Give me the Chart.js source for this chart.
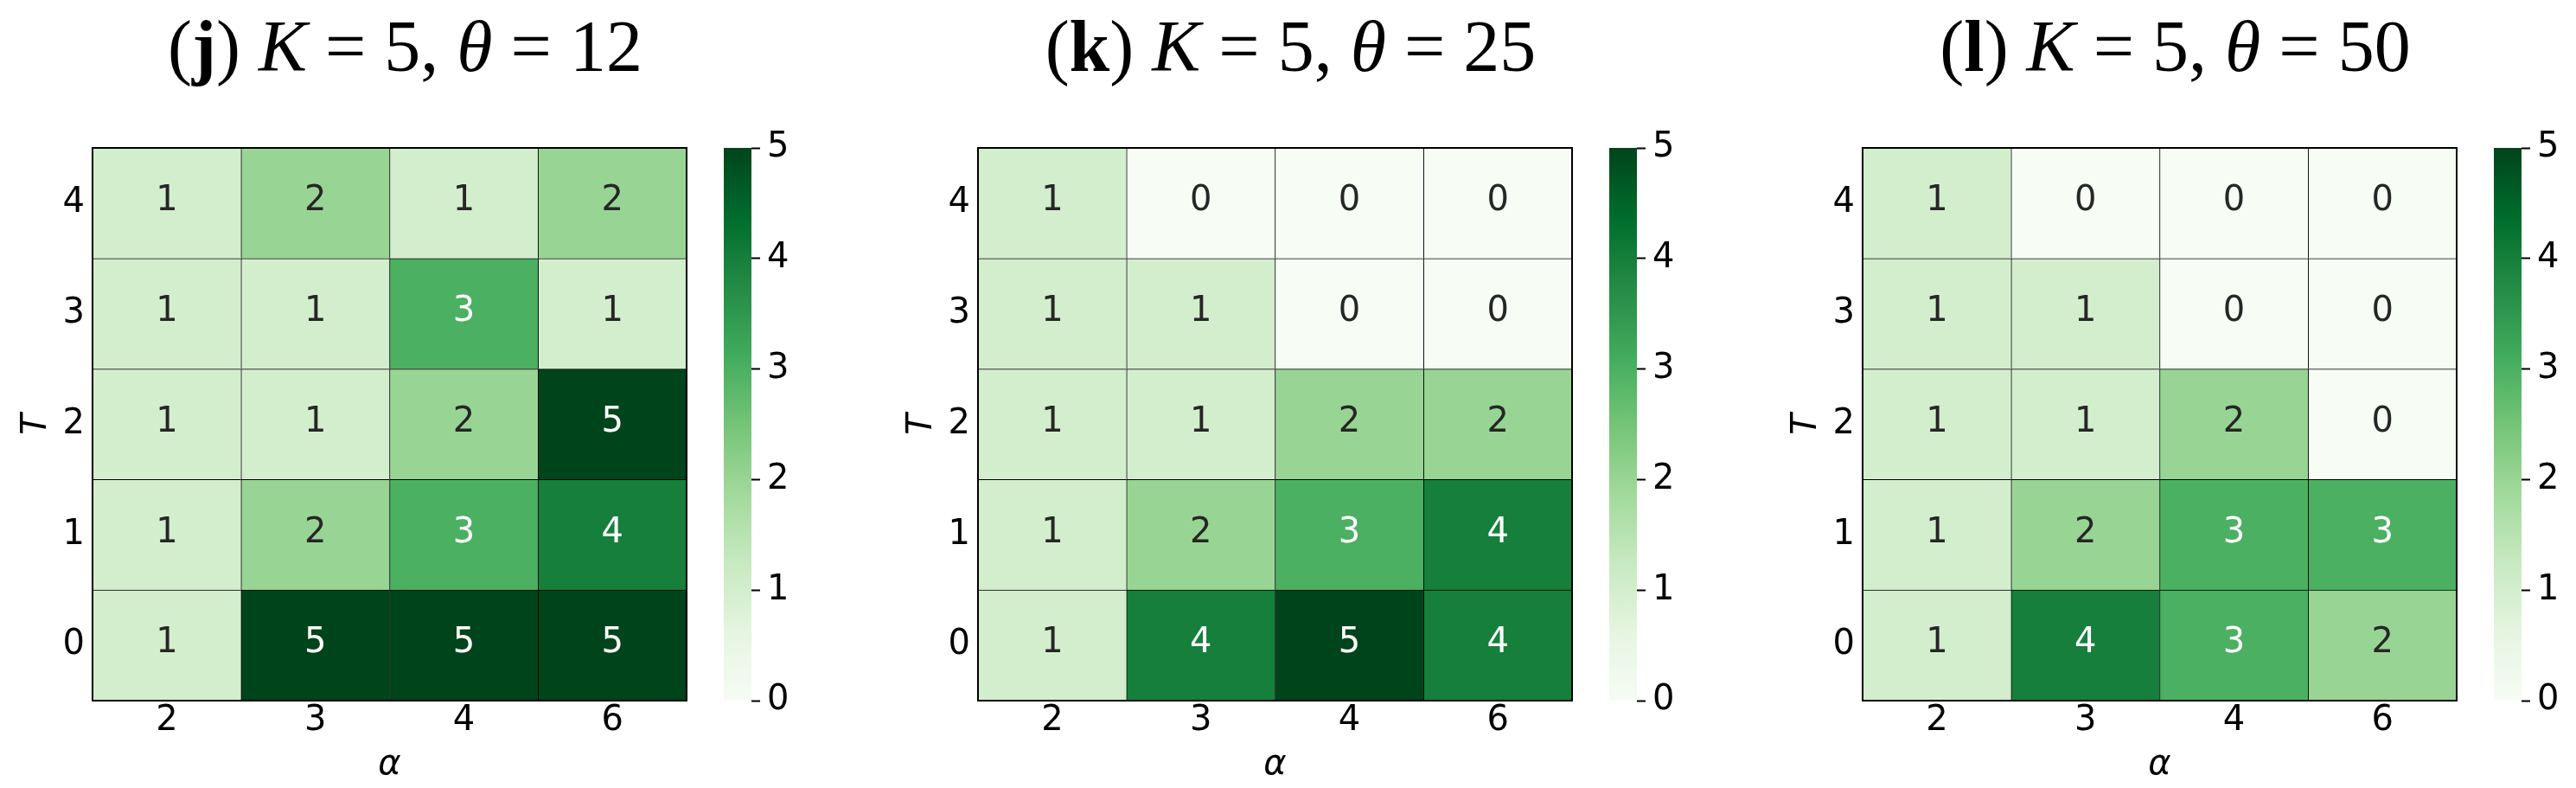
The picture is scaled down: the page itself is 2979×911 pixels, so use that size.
<!DOCTYPE html>
<html>
<head>
<meta charset="utf-8">
<script src="https://cdn.jsdelivr.net/npm/chart.js@4.4.0/dist/chart.umd.min.js"></script>
<style>
  html, body { margin: 0; padding: 0; background: #fff; }
  #wrap { position: relative; width: 2979px; height: 911px; overflow: hidden; }
  #wrap canvas { position: absolute; top: 0; }
</style>
</head>
<body>
<div id="wrap"></div>
<script>
// --- data ---------------------------------------------------------------
const alphaLabels = ['2', '3', '4', '6'];
const tValues = [0, 1, 2, 3, 4];
const panelLetters = ['j', 'k', 'l'];
const kValue = 5;
const thetas = [12, 25, 50];
// one row per T, from T = 0 up to T = 4
const counts12 = [[1, 5, 5, 5], [1, 2, 3, 4], [1, 1, 2, 5], [1, 1, 3, 1], [1, 2, 1, 2]];
const counts25 = [[1, 4, 5, 4], [1, 2, 3, 4], [1, 1, 2, 2], [1, 1, 0, 0], [1, 0, 0, 0]];
const counts50 = [[1, 4, 3, 2], [1, 2, 3, 3], [1, 1, 2, 0], [1, 1, 0, 0], [1, 0, 0, 0]];
const panelCounts = [counts12, counts25, counts50];
const cbTicks = [0, 1, 2, 3, 4, 5];
const vMin = 0, vMax = 5;

// matplotlib "Greens"
const greensStops = ['#f7fcf5', '#e5f5e0', '#c7e9c0', '#a1d99b', '#74c476', '#41ab5d', '#238b45', '#006d2c', '#00441b'];

function hexToRgb(h) {
    return [parseInt(h.slice(1, 3), 16), parseInt(h.slice(3, 5), 16), parseInt(h.slice(5, 7), 16)];
}

function greens(t) {
    t = Math.max(0, Math.min(1, t));
    const pos = t * (greensStops.length - 1);
    const i = Math.min(Math.floor(pos), greensStops.length - 2);
    const f = pos - i;
    const a = hexToRgb(greensStops[i]), b = hexToRgb(greensStops[i + 1]);
    const c = a.map((v, k) => Math.round(v + (b[k] - v) * f));
    return `rgb(${c[0]},${c[1]},${c[2]})`;
}

Chart.defaults.font.family = '"DejaVu Sans"';
Chart.defaults.color = '#000';

const FONT = 40;
const heatLefts = [107, 1131, 2154];
const heatW = 687, heatTop = 171, heatBottom = 810;
const yAxisW = 107, padRight = 12;
const cbGap = 43, cbW = 32, cbAxisW = 90;

const wrap = document.getElementById('wrap');

function addCanvas(left, width) {
    const c = document.createElement('canvas');
    c.width = width;
    c.height = 911;
    c.style.left = left + 'px';
    c.style.width = width + 'px';
    c.style.height = '911px';
    wrap.appendChild(c);
    return c;
}

// panel title with mixed bold / italic parts
const titlePlugin = {
    id: 'panelTitle',
    afterDraw(chart) {
        const opts = chart.options.plugins.panelTitle;
        const ctx = chart.ctx;
        const size = 84;
        const segs = [
            ['(', ''], [opts.letter, 'bold '], [') ', ''], ['K', 'italic '],
            [' = ' + kValue + ', ', ''], ['θ', 'italic '], [' = ' + opts.theta, '']
        ];
        ctx.save();
        let total = 0;
        const widths = segs.map(s => {
            ctx.font = s[1] + size + 'px "Liberation Serif"';
            const w = ctx.measureText(s[0]).width;
            total += w;
            return w;
        });
        const area = chart.chartArea;
        let x = (area.left + area.right) / 2 + 18 - total / 2;
        ctx.fillStyle = '#000';
        ctx.textBaseline = 'alphabetic';
        ctx.textAlign = 'left';
        segs.forEach((s, i) => {
            ctx.font = s[1] + size + 'px "Liberation Serif"';
            ctx.fillText(s[0], x, 82);
            x += widths[i];
        });
        ctx.restore();
    }
};

// cell numbers and the outer frame
const annotatePlugin = {
    id: 'annotate',
    afterDatasetsDraw(chart) {
        const ctx = chart.ctx;
        ctx.save();
        ctx.font = FONT + 'px "DejaVu Sans"';
        ctx.textAlign = 'center';
        ctx.textBaseline = 'middle';
        chart.data.datasets.forEach((ds, di) => {
            chart.getDatasetMeta(di).data.forEach((bar, j) => {
                const v = ds.counts[j];
                ctx.fillStyle = v >= 3 ? '#ffffff' : '#262626';
                ctx.fillText(String(v), bar.x, (bar.y + bar.base) / 2 - 2);
            });
        });
        const a = chart.chartArea;
        ctx.strokeStyle = '#000';
        ctx.lineWidth = 2;
        ctx.strokeRect(a.left, a.top, a.right - a.left, a.bottom - a.top);
        ctx.restore();
    }
};

function makeHeatmap(p) {
    const L = heatLefts[p];
    const canvas = addCanvas(L - yAxisW, yAxisW + heatW + padRight);
    const counts = panelCounts[p];
    const datasets = tValues.map((t, r) => ({
        label: 'T=' + t,
        data: alphaLabels.map(() => [t - 0.5, t + 0.5]),
        counts: counts[r],
        backgroundColor: counts[r].map(v => greens((v - vMin) / (vMax - vMin))),
        borderColor: '#000',
        borderWidth: { top: 1, left: 1, right: 0, bottom: 0 },
        borderSkipped: false,
        grouped: false,
        barPercentage: 1,
        categoryPercentage: 1
    }));

    return new Chart(canvas.getContext('2d'), {
        type: 'bar',
        data: { labels: alphaLabels, datasets: datasets },
        options: {
            responsive: false,
            animation: false,
            layout: { padding: { top: heatTop, right: padRight, left: 0, bottom: 0 } },
            plugins: {
                legend: { display: false },
                tooltip: { enabled: false },
                panelTitle: { letter: panelLetters[p], theta: thetas[p] }
            },
            scales: {
                x: {
                    type: 'category',
                    grid: { display: false, drawTicks: false },
                    border: { display: false },
                    ticks: { font: { size: FONT }, color: '#000', padding: 0, maxRotation: 0 },
                    title: {
                        display: true, text: 'α',
                        font: { size: FONT, style: 'italic' }, color: '#000',
                        padding: { top: 0, bottom: 2 }
                    },
                    afterFit: (scale) => { scale.height = 911 - heatBottom; }
                },
                y: {
                    type: 'linear',
                    min: tValues[0] - 0.5,
                    max: tValues[tValues.length - 1] + 0.5,
                    afterBuildTicks: (scale) => { scale.ticks = tValues.map(v => ({ value: v })); },
                    grid: { display: false, drawTicks: false },
                    border: { display: false },
                    ticks: { font: { size: FONT }, color: '#000', padding: 9 },
                    title: {
                        display: true, text: 'T',
                        font: { size: FONT, style: 'italic' }, color: '#000',
                        padding: { top: 19, bottom: 0 }
                    },
                    afterFit: (scale) => { scale.width = yAxisW; }
                }
            }
        },
        plugins: [annotatePlugin, titlePlugin]
    });
}

function makeColorbar(p) {
    const left = heatLefts[p] + heatW + cbGap;
    const canvas = addCanvas(left, cbW + cbAxisW);
    return new Chart(canvas.getContext('2d'), {
        type: 'bar',
        data: {
            labels: [''],
            datasets: [{
                data: [[vMin, vMax]],
                backgroundColor: (context) => {
                    const a = context.chart.chartArea;
                    if (!a) return greens(0.5);
                    const g = context.chart.ctx.createLinearGradient(0, a.bottom, 0, a.top);
                    greensStops.forEach((c, i) => g.addColorStop(i / (greensStops.length - 1), c));
                    return g;
                },
                borderWidth: 0,
                barPercentage: 1,
                categoryPercentage: 1
            }]
        },
        options: {
            responsive: false,
            animation: false,
            layout: { padding: { top: heatTop, bottom: 911 - heatBottom, left: 0, right: 0 } },
            plugins: { legend: { display: false }, tooltip: { enabled: false } },
            scales: {
                x: { display: false },
                y: {
                    position: 'right',
                    min: vMin,
                    max: vMax,
                    afterBuildTicks: (scale) => { scale.ticks = cbTicks.map(v => ({ value: v })); },
                    grid: { drawOnChartArea: false, drawTicks: true, tickLength: 10, tickWidth: 2, color: '#000' },
                    border: { display: false },
                    ticks: { font: { size: FONT }, color: '#000', padding: 8 },
                    afterFit: (scale) => { scale.width = cbAxisW; }
                }
            }
        }
    });
}

[0, 1, 2].forEach(p => {
    makeHeatmap(p);
    makeColorbar(p);
});
</script>
</body>
</html>
